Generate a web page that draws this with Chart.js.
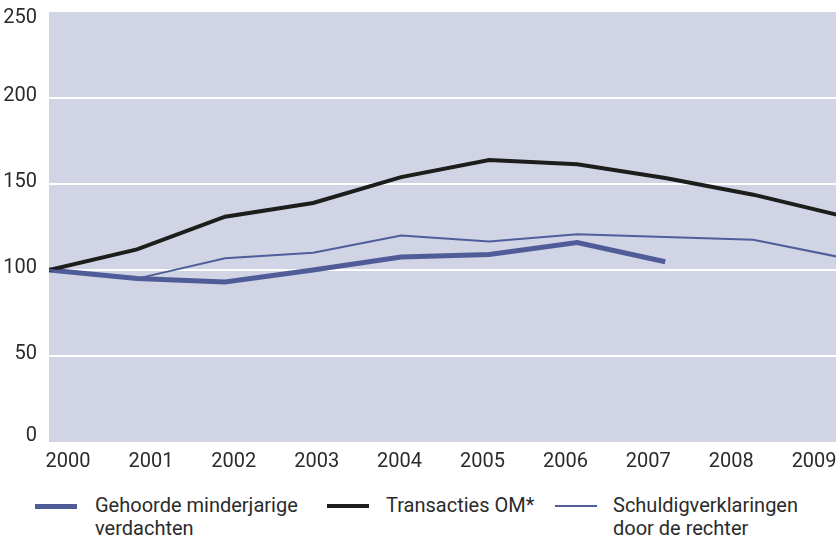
<!DOCTYPE html>
<html>
<head>
<meta charset="utf-8">
<script src="https://cdn.jsdelivr.net/npm/chart.js@4/dist/chart.umd.min.js"></script>
<style>
  html, body { margin: 0; padding: 0; background: #fff; }
  body { width: 836px; height: 539px; position: relative; overflow: hidden; font-family: Roboto, sans-serif; color: #2b2b2b; }
  #wrap { position: absolute; left: 0; top: 0; width: 836px; height: 475px; }
  .leg-line { position: absolute; }
  .leg-text { position: absolute; font-size: 20px; line-height: 23px; color: #2b2b2b; white-space: nowrap; }
</style>
</head>
<body>
<div id="wrap"><canvas id="chart"></canvas></div>
<div id="legend"></div>
<script>
const years = [2000, 2001, 2002, 2003, 2004, 2005, 2006, 2007, 2008, 2009];
const yTicks = [0, 50, 100, 150, 200, 250];

const seriesNames = [
  ['Gehoorde minderjarige', 'verdachten'],
  ['Transacties OM*'],
  ['Schuldigverklaringen', 'door de rechter']
];
const gehoordeValues = [100, 95, 93, 100, 107.6, 109, 116, 104.8];
const transactiesValues = [100, 112, 131, 139, 154, 164, 161.5, 153.5, 143.8, 131.5];
const schuldigValues = [100, 95, 106.8, 110, 120, 116.6, 120.8, 119.2, 117.6, 107.3];

const colors = ['#4f5c98', '#1d1d1b', '#4f5e9b'];
const widths = [5, 4, 2];

function points(vals) {
  return vals.map((v, i) => ({x: years[i], y: v}));
}

// shade the plot area, and keep the outer y labels inside it
const plotBg = {
  id: 'plotBg',
  beforeDraw(chart) {
    const {ctx, chartArea: a} = chart;
    ctx.save();
    ctx.fillStyle = '#d0d4e5';
    ctx.fillRect(a.left, a.top, a.right - a.left, a.bottom - a.top);
    ctx.restore();
    chart.scales.y.getLabelItems().forEach(item => {
      if (item.label === '250') item.options.translation[1] = a.top + 6;
      if (item.label === '0') item.options.translation[1] = a.bottom - 6;
    });
  }
};

const ctx = document.getElementById('chart').getContext('2d');
new Chart(ctx, {
  type: 'line',
  data: {
    datasets: [gehoordeValues, transactiesValues, schuldigValues].map((vals, i) => ({
      label: seriesNames[i].join(' '),
      data: points(vals),
      borderColor: colors[i],
      backgroundColor: colors[i],
      borderWidth: widths[i],
      pointRadius: 0,
      tension: 0,
      fill: false,
      xAxisID: 'x',
      yAxisID: 'y'
    })).reverse()
  },
  options: {
    responsive: true,
    maintainAspectRatio: false,
    animation: false,
    layout: {padding: 0},
    plugins: {legend: {display: false}, tooltip: {enabled: false}},
    scales: {
      x: {
        type: 'linear',
        display: false,
        min: 2000,
        max: 2008.94
      },
      xl: {
        type: 'linear',
        position: 'bottom',
        min: 1999.771,
        max: 2009.264,
        afterBuildTicks: s => { s.ticks = years.map(v => ({value: v})); },
        afterFit: s => { s.height = 33; s.paddingLeft = 0; s.paddingRight = 0; },
        grid: {display: false, drawTicks: false},
        border: {display: false},
        ticks: {
          padding: 8,
          color: '#2b2b2b',
          font: {family: 'Roboto', size: 20},
          maxRotation: 0,
          autoSkip: false,
          callback: v => String(v)
        }
      },
      y: {
        min: 0,
        max: 250,
        afterBuildTicks: s => { s.ticks = yTicks.map(v => ({value: v})); },
        afterFit: s => { s.width = 49; s.paddingTop = 12; s.paddingBottom = 0; },
        grid: {
          color: c => (c.tick && c.tick.value > 0 && c.tick.value < 250) ? '#ffffff' : 'rgba(0,0,0,0)',
          lineWidth: 2,
          drawTicks: false
        },
        border: {display: false},
        ticks: {
          padding: 12,
          labelOffset: -2,
          color: '#2b2b2b',
          font: {family: 'Roboto', size: 20}
        }
      }
    }
  },
  plugins: [plotBg]
});

// legend below the chart
const legendPos = [
  {line: 35, text: 95},
  {line: 327, text: 386},
  {line: 555, text: 613}
];
const legend = document.getElementById('legend');
seriesNames.forEach((name, i) => {
  const ln = document.createElement('div');
  ln.className = 'leg-line';
  ln.style.left = legendPos[i].line + 'px';
  ln.style.width = '42px';
  ln.style.height = widths[i] + 'px';
  ln.style.top = (506 - widths[i] / 2) + 'px';
  ln.style.background = colors[i];
  legend.appendChild(ln);
  const tx = document.createElement('div');
  tx.className = 'leg-text';
  tx.style.left = legendPos[i].text + 'px';
  tx.style.top = '494px';
  tx.innerHTML = name.join('<br>');
  legend.appendChild(tx);
});
</script>
</body>
</html>
